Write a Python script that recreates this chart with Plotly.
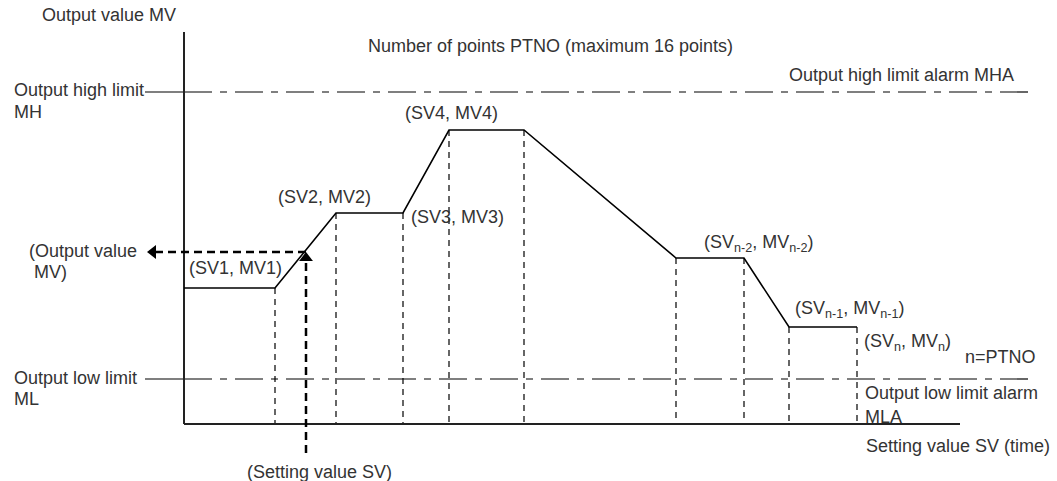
import plotly.graph_objects as go

# ---- data (SV, MV in diagram units; origin at axes corner) ----
sv_points = [0, 91, 152, 219, 265, 340, 492, 560, 605, 673]
mv_points = [136, 136, 211, 211, 294, 294, 166, 166, 97, 97]
mv_high = 332
mv_low = 45
axis_sv_end = 776
axis_mv_end = 392
limit_sv_start = -39
alarm_sv_end = 846
example_sv = 122
example_mv = 172
example_sv_low = -29
example_out_sv = -37

labels = [
    ("Output value MV", 40, 15),
    ("Number of points PTNO (maximum 16 points)", 366, 46),
    ("Output high limit alarm MHA", 787, 75),
    ("Output high limit", 12, 90),
    ("MH", 12, 112),
    ("(SV4, MV4)", 403, 113),
    ("(SV2, MV2)", 276, 197),
    ("(SV3, MV3)", 409, 217),
    ("(SV1, MV1)", 187, 268),
    ("(Output value", 27, 251),
    ("MV)", 32, 272),
    ("(SV<sub>n-2</sub>, MV<sub>n-2</sub>)", 702, 243),
    ("(SV<sub>n-1</sub>, MV<sub>n-1</sub>)", 793, 309),
    ("(SV<sub>n</sub>, MV<sub>n</sub>)", 862, 342),
    ("n=PTNO", 963, 357),
    ("Output low limit", 12, 378),
    ("ML", 12, 399),
    ("Output low limit alarm", 863, 393),
    ("MLA", 863, 417),
    ("Setting value SV (time)", 864, 446),
    ("(Setting value SV)", 245, 472),
]

X0, Y0 = 184, 424  # pixel position of the origin
W, H = 1057, 481

fig = go.Figure()

def line(xs, ys, color="#000", width=1.5, dash="solid"):
    fig.add_trace(go.Scatter(x=xs, y=ys, mode="lines",
                             line=dict(color=color, width=width, dash=dash),
                             hoverinfo="skip", showlegend=False))

# dashed verticals
for s, m in zip(sv_points[1:], mv_points[1:]):
    line([s, s], [m, 0], width=1.2, dash="6px,5px")

# limit lines
dashdot = "28px,8px,7px,8px"
for m in (mv_high, mv_low):
    line([limit_sv_start, 0], [m, m], width=1.2)
    line([0, alarm_sv_end], [m, m], width=1.2, dash=dashdot)

# axes
line([0, 0], [0, axis_mv_end], color="#222", width=2)
line([0, axis_sv_end], [0, 0], color="#222", width=2)

# polyline
line(sv_points, mv_points, width=1.6)

# example lookup arrows
line([example_sv, example_sv], [example_sv_low, example_mv - 6], width=2.5, dash="8px,5px")
line([example_sv, example_out_sv + 6], [example_mv, example_mv], width=2.5, dash="8px,5px")
fig.add_trace(go.Scatter(x=[example_sv, example_out_sv + 6],
                         y=[example_mv - 6, example_mv],
                         mode="markers",
                         marker=dict(symbol=["triangle-up", "triangle-left"], size=12, color="#000"),
                         hoverinfo="skip", showlegend=False))

for text, px, py in labels:
    fig.add_annotation(x=px - X0, y=Y0 - py, text=text, showarrow=False,
                       xanchor="left", yanchor="middle", xref="x", yref="y",
                       font=dict(family="Liberation Sans, Arial, sans-serif", size=18, color="#333"))

fig.update_layout(
    width=W, height=H, autosize=False,
    margin=dict(l=0, r=0, t=0, b=0),
    paper_bgcolor="white", plot_bgcolor="white",
    hovermode=False,
    xaxis=dict(range=[-X0, W - X0], visible=False, fixedrange=True),
    yaxis=dict(range=[Y0 - H, Y0], visible=False, fixedrange=True),
)

fig.write_html("out.html",
               config={"displayModeBar": False, "staticPlot": True},
               post_script="document.body.style.margin='0';document.body.style.overflow='hidden';")
